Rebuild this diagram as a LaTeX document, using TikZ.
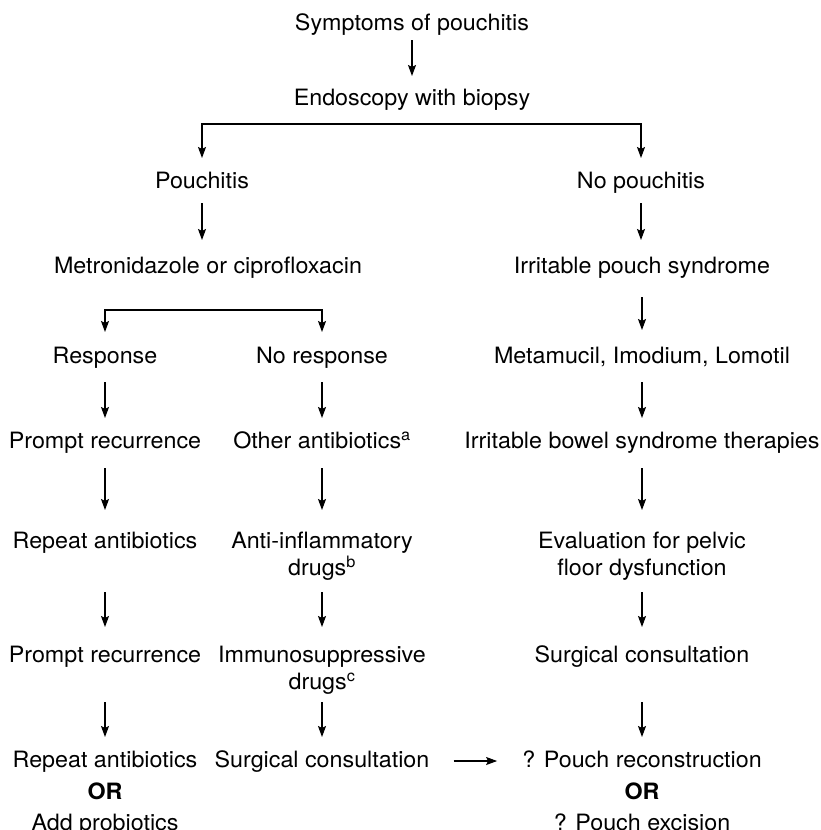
\documentclass[tikz,border=0pt]{standalone}
\usepackage{fontspec}
\setmainfont{TeX Gyre Heros}[FakeStretch=1.035]
\usetikzlibrary{arrows.meta}
% text size used by every label of the chart
\newcommand\chartfont{\fontsize{22.5}{27}\selectfont}
% centred block of lines whose first baseline is the node's base
\newcommand\lines[1]{\begin{tabular}[t]{@{}c@{}}#1\end{tabular}}
\begin{document}
\begin{tikzpicture}[x=1pt,y=-1pt,
  lbl/.style={inner sep=0pt, anchor=base, font=\chartfont},
  arr/.style={-{Stealth[length=11pt,width=8pt,inset=2pt]}, line width=1.1pt},
  fork/.style={{Stealth[length=11pt,width=8pt,inset=2pt]}-{Stealth[length=11pt,width=8pt,inset=2pt]},
    line width=1.1pt, line join=miter}]
\useasboundingbox (0,0) rectangle (821,830);
\fill[white] (0,0) rectangle (821,830);

% ---- top of the chart
\node[lbl] (sym)     at (412,30)  {Symptoms of pouchitis};
\node[lbl] (endo)    at (412,105) {Endoscopy with biopsy};
\node[lbl] (pouch)   at (202,188) {Pouchitis};
\node[lbl] (nopouch) at (641,188) {No pouchitis};
\node[lbl] (metro)   at (208,273) {Metronidazole or ciprofloxacin};
\node[lbl] (ips)     at (642,273) {Irritable pouch syndrome};

% ---- left column: response to antibiotics
\node[lbl] (resp) at (105,363) {Response};
\node[lbl] (pr1)  at (105,448) {Prompt recurrence};
\node[lbl] (ra1)  at (105,548) {Repeat antibiotics};
\node[lbl] (pr2)  at (105,662) {Prompt recurrence};
\node[lbl] (ra2)  at (105,767) {\lines{Repeat antibiotics\\[5pt] \textbf{OR}\\[4pt] Add probiotics}};

% ---- middle column: no response
\node[lbl] (noresp) at (322,363) {No response};
\node[lbl] (oa)     at (322,448) {Other antibiotics\textsuperscript{a}};
\node[lbl] (aid)    at (322,548) {\lines{Anti-inflammatory\\drugs\textsuperscript{b}}};
\node[lbl] (isd)    at (322,662) {\lines{Immunosuppressive\\drugs\textsuperscript{c}}};
\node[lbl] (sc2)    at (322,767) {Surgical consultation};

% ---- right column: no pouchitis
\node[lbl] (meta) at (642,363) {Metamucil, Imodium, Lomotil};
\node[lbl] (ibs)  at (642,448) {Irritable bowel syndrome therapies};
\node[lbl] (eval) at (642,548) {\lines{Evaluation for pelvic\\floor dysfunction}};
\node[lbl] (sc1)  at (642,662) {Surgical consultation};
\node[lbl] (prx)  at (642,767) {\lines{? Pouch reconstruction\\[5pt] \textbf{OR}\\[4pt] ? Pouch excision}};

% ---- connectors
\draw[arr] ([yshift=-10pt]sym.base) -- ([yshift=29pt]endo.base);
\draw[fork] ([yshift=30pt]pouch.base) |- ([yshift=-19pt]endo.base) -| ([yshift=30pt]nopouch.base);
\draw[arr] ([yshift=-15pt]pouch.base) -- ([yshift=33pt]pouch.base |- metro.base);
\draw[arr] ([yshift=-15pt]nopouch.base) -- ([yshift=33pt]nopouch.base |- ips.base);
\draw[fork] ([yshift=31pt]resp.base) |- ([yshift=-37pt]metro.base) -| ([yshift=31pt]noresp.base);
\draw[arr] ([yshift=-24pt]ips.base) -- ([yshift=33pt]meta.base);

\draw[arr] ([yshift=-19pt]resp.base)   -- ([yshift=30pt]pr1.base);
\draw[arr] ([yshift=-19pt]noresp.base) -- ([yshift=30pt]oa.base);
\draw[arr] ([yshift=-19pt]meta.base)   -- ([yshift=30pt]ibs.base);

\draw[arr] ([yshift=-20pt]pr1.base) -- ([yshift=38pt]ra1.base);
\draw[arr] ([yshift=-20pt]oa.base)  -- ([yshift=38pt]aid.base);
\draw[arr] ([yshift=-20pt]ibs.base) -- ([yshift=38pt]eval.base);

\draw[arr] ([yshift=-44pt]ra1.base)  -- ([yshift=35pt]pr2.base);
\draw[arr] ([yshift=-44pt]aid.base)  -- ([yshift=35pt]isd.base);
\draw[arr] ([yshift=-44pt]eval.base) -- ([yshift=35pt]sc1.base);

\draw[arr] ([yshift=-40pt]pr2.base) -- ([yshift=30pt]ra2.base);
\draw[arr] ([yshift=-40pt]isd.base) -- ([yshift=30pt]sc2.base);
\draw[arr] ([yshift=-40pt]sc1.base) -- ([yshift=30pt]prx.base);

\draw[arr] ([xshift=24pt,yshift=6pt]sc2.base east) -- ([xshift=-25pt,yshift=6pt]prx.base west);
\end{tikzpicture}
\end{document}
